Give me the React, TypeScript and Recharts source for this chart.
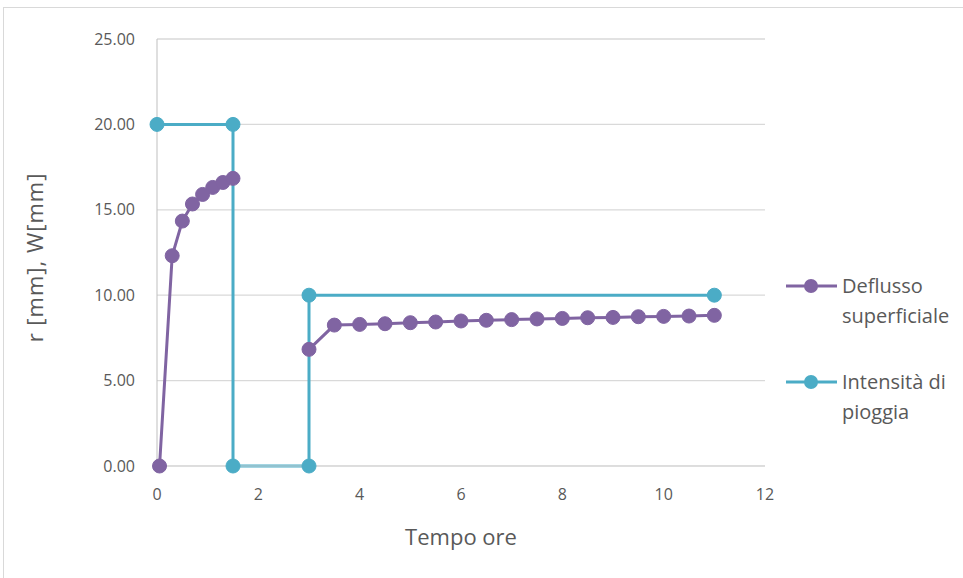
import React from 'react';
import { LineChart, Line, XAxis, YAxis, CartesianGrid, Legend } from 'recharts';

const runoffEventX = [0.05, 0.3, 0.5, 0.7, 0.9, 1.1, 1.3, 1.5];
const runoffEventY = [0, 12.31, 14.34, 15.34, 15.9, 16.31, 16.6, 16.84];
const runoffSecondX = [3, 3.5, 4, 4.5, 5, 5.5, 6, 6.5, 7, 7.5, 8, 8.5, 9, 9.5, 10, 10.5, 11];
const runoffSecondY = [6.83, 8.25, 8.29, 8.33, 8.39, 8.43, 8.49, 8.53, 8.57, 8.61, 8.64, 8.68, 8.7, 8.74, 8.76, 8.78, 8.82];
const rainX = [0, 1.5, 1.5, 3, 3, 11];
const rainY = [20, 20, 0, 0, 10, 10];
const xTicks = [0, 2, 4, 6, 8, 10, 12];
const yTicks = [0, 5, 10, 15, 20, 25];
const seriesNames = [['Deflusso', 'superficiale'], ['Intensità di', 'pioggia']];

const PURPLE = '#8064A2';
const CYAN = '#4BACC6';
const FONT = "'Open Sans', sans-serif";
const TEXT = '#595959';
const LEGEND_W = 170;

const runoffA = runoffEventX.map((x, i) => ({ x, y: runoffEventY[i] }));
const runoffB = runoffSecondX.map((x, i) => ({ x, y: runoffSecondY[i] }));
const rain = rainX.map((x, i) => ({ x, y: rainY[i] }));

const LegendContent = () => {
  const colors = [PURPLE, CYAN];
  return (
    <div style={{ fontFamily: FONT, fontSize: 20, color: TEXT }}>
      {seriesNames.map((lines, i) => (
        <div key={i} style={{ display: 'flex', alignItems: 'flex-start', marginBottom: i === 0 ? 36 : 0 }}>
          <svg width={56} height={30} style={{ flex: 'none' }}>
            <line x1={0} y1={15} x2={51} y2={15} stroke={colors[i]} strokeWidth={3} />
            <circle cx={25} cy={15} r={7} fill={colors[i]} />
          </svg>
          <div style={{ lineHeight: '30px', whiteSpace: 'nowrap' }}>
            {lines.map((l, j) => (
              <div key={j}>{l}</div>
            ))}
          </div>
        </div>
      ))}
    </div>
  );
};

export default function App() {
  return (
    <div style={{ position: 'absolute', left: 0, top: 0, width: 963, height: 578, overflow: 'hidden', background: '#fff' }}>
      <div style={{ position: 'absolute', left: 3, top: 7, width: 1000, height: 600, border: '1px solid #d9d9d9' }} />
      <div style={{ position: 'absolute', left: 0, top: 0 }}>
        <LineChart width={963} height={578} margin={{ top: 39, right: 198 - LEGEND_W, bottom: 52, left: 20 }}>
          <CartesianGrid horizontal vertical={false} stroke="#d9d9d9" strokeWidth={1.3} />
          <XAxis
            type="number"
            dataKey="x"
            domain={[0, 12]}
            ticks={xTicks}
            allowDuplicatedCategory={false}
            height={60}
            axisLine={{ stroke: '#d9d9d9' }}
            tickLine={false}
            tickSize={6}
            tickMargin={17}
            tick={{ fill: TEXT, fontSize: 16, fontFamily: FONT }}
            label={{
              content: (p: any) => {
                const vb = p.viewBox;
                return (
                  <text x={vb.x + vb.width / 2} y={545} textAnchor="middle" fill={TEXT} fontSize={22} fontFamily={FONT}>
                    Tempo ore
                  </text>
                );
              },
            }}
          />
          <YAxis
            type="number"
            dataKey="y"
            domain={[0, 25]}
            ticks={yTicks}
            width={137}
            axisLine={{ stroke: '#bfbfbf' }}
            tickLine={false}
            tickSize={6}
            tickMargin={16}
            tickFormatter={(v: number) => v.toFixed(2)}
            tick={{ fill: TEXT, fontSize: 16, fontFamily: FONT }}
            label={{
              content: (p: any) => {
                const vb = p.viewBox;
                const cx = 43;
                const cy = vb.y + vb.height / 2 + 5;
                return (
                  <text x={cx} y={cy} transform={`rotate(-90 ${cx} ${cy})`} textAnchor="middle" fill={TEXT} fontSize={22} letterSpacing={1} fontFamily={FONT}>
                    r [mm], W[mm]
                  </text>
                );
              },
            }}
          />
          <Legend
            layout="vertical"
            align="right"
            verticalAlign="top"
            content={<LegendContent />}
            wrapperStyle={{ left: 786, top: 271, width: LEGEND_W }}
          />
          <Line data={rain} dataKey="y" name="Intensità di pioggia" stroke={CYAN} strokeWidth={3} dot={{ r: 7, fill: CYAN, stroke: CYAN, strokeWidth: 1 }} isAnimationActive={false} />
          <Line data={runoffA} dataKey="y" name="Deflusso superficiale" stroke={PURPLE} strokeWidth={3} dot={{ r: 7, fill: PURPLE, stroke: PURPLE, strokeWidth: 1 }} isAnimationActive={false} />
          <Line data={runoffB} dataKey="y" name="Deflusso superficiale " stroke={PURPLE} strokeWidth={3} dot={{ r: 7, fill: PURPLE, stroke: PURPLE, strokeWidth: 1 }} isAnimationActive={false} legendType="none" />
        </LineChart>
      </div>
    </div>
  );
}
